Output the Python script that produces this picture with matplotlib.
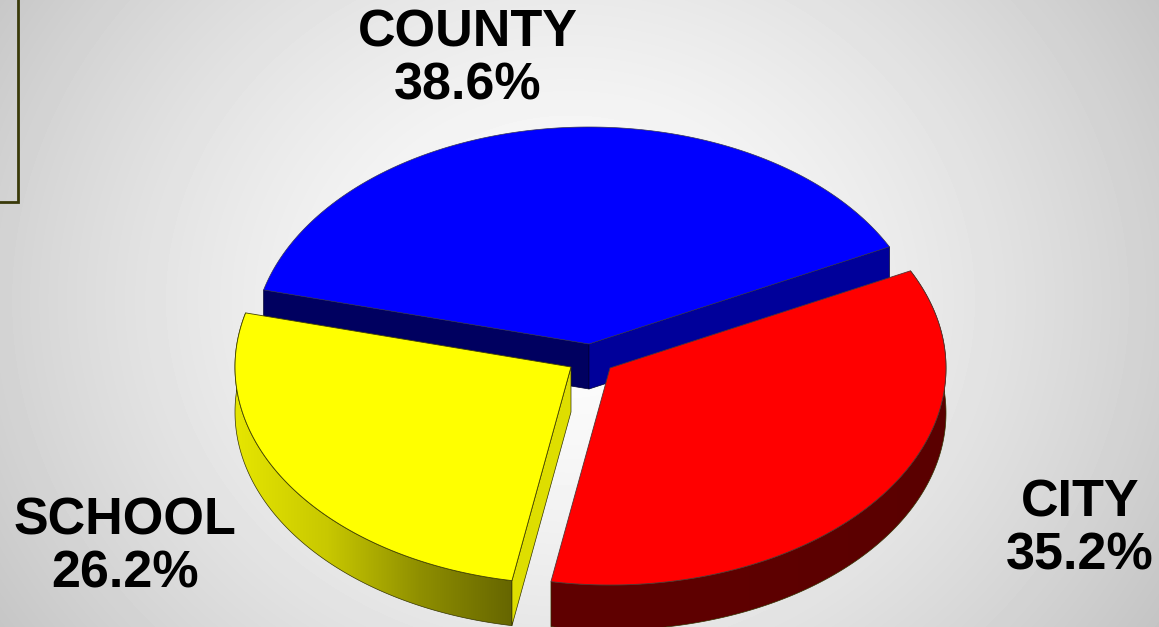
import numpy as np
import matplotlib
matplotlib.use("Agg")
import matplotlib.pyplot as plt
from matplotlib.patches import Polygon
from matplotlib.colors import LinearSegmentedColormap

categories = ["COUNTY", "SCHOOL", "CITY"]
shares = [38.6, 26.2, 35.2]
share_labels = ["38.6%", "26.2%", "35.2%"]

W, H = 1159, 627
RX, RY, DEPTH = 336, 217, 45
START = 26.6
centres = [(589, 344), (571, 367), (610, 368)]
top_colors = ["#0000ff", "#ffff00", "#ff0000"]
label_pos = [(468, 27.5), (125, 515.5), (1080, 497.5)]
LINE_GAP = 52.5

fig = plt.figure(figsize=(W / 100, H / 100), dpi=100)
ax = fig.add_axes([0, 0, 1, 1])
ax.set_xlim(0, W)
ax.set_ylim(H, 0)
ax.axis("off")

yy, xx = np.mgrid[0:H, 0:W]
d = np.hypot((xx - 570) / 640, (yy - 300) / 560)
bg = np.clip(0.995 - 0.2 * d ** 1.5, 0.76, 1)
ax.imshow(bg, cmap="gray", vmin=0, vmax=1, extent=(0, W, H, 0), aspect="auto", zorder=0)
ax.set_xlim(0, W)
ax.set_ylim(H, 0)
ax.plot([18, 18, 0], [0, 202, 202], color="#3a3a0a", lw=2.0, zorder=1, solid_joinstyle="miter")


def arc(c, a0, a1, dy=0):
    t = np.radians(np.linspace(a0, a1, 200))
    return np.column_stack([c[0] + RX * np.cos(t), c[1] - RY * np.sin(t) + dy])


def gradient_wall(pts, cmap, x0, x1, z):
    poly = Polygon(pts, closed=True, fc="none", ec="#333300", lw=0.5, zorder=z + 0.1)
    ax.add_patch(poly)
    g = np.linspace(0, 1, 256).reshape(1, -1)
    im = ax.imshow(g, cmap=cmap, extent=(x0, x1, H, 0), aspect="auto", zorder=z)
    im.set_clip_path(poly)
    ax.set_xlim(0, W)
    ax.set_ylim(H, 0)


edges = np.cumsum([0] + shares) / sum(shares) * 360 + START

# COUNTY: two cut faces and top
c = centres[0]
a0, a1 = edges[0], edges[1]
P0 = arc(c, a0, a0)[0]
P1 = arc(c, a1, a1)[0]
A = np.array(c, float)
D = np.array([0, DEPTH])
ax.add_patch(Polygon([P1, A, A + D, P1 + D], fc="#000060", ec="#000033", lw=0.5, zorder=2))
ax.add_patch(Polygon([A, P0, P0 + D, A + D], fc="#00009a", ec="#000033", lw=0.5, zorder=2))
ax.add_patch(Polygon(np.vstack([[c], arc(c, a0, a1)]), fc=top_colors[0], ec="#333355", lw=0.5, zorder=3))

# SCHOOL: outer wall, cut face, top
c = centres[1]
a0, a1 = edges[1], edges[2]
A = np.array(c, float)
E = arc(c, a1, a1)[0]
cm_y = LinearSegmentedColormap.from_list("y", ["#e6e600", "#c8c800", "#8f8f00", "#666600"])
outer = np.vstack([arc(c, a0, a1), arc(c, a1, a0, DEPTH)])
gradient_wall(outer, cm_y, c[0] - RX, E[0], 4)
ax.add_patch(Polygon([A, E, E + D, A + D], fc="#dede00", ec="#333300", lw=0.5, zorder=4.2))
ax.add_patch(Polygon(np.vstack([[c], arc(c, a0, a1)]), fc=top_colors[1], ec="#444400", lw=0.6, zorder=5))

# CITY: outer wall and top
c = centres[2]
a0, a1 = edges[2], edges[3]
cm_r = LinearSegmentedColormap.from_list("r", ["#600000", "#5e0000", "#5a0000"])
outer = np.vstack([arc(c, a0, a1), arc(c, a1, a0, DEPTH)])
gradient_wall(outer, cm_r, arc(c, a0, a0)[0][0], c[0] + RX, 4)
ax.add_patch(Polygon(np.vstack([[c], arc(c, a0, a1)]), fc=top_colors[2], ec="#553333", lw=0.6, zorder=5))

for name, val, (x, y) in zip(categories, share_labels, label_pos):
    ax.text(x, y, name, ha="center", va="center_baseline", family="Liberation Sans", weight="bold", fontsize=37.5, color="black", zorder=6)
    ax.text(x, y + LINE_GAP, val, ha="center", va="center_baseline", family="Liberation Sans", weight="bold", fontsize=37.5, color="black", zorder=6)

fig.savefig("out.png", dpi=100)
